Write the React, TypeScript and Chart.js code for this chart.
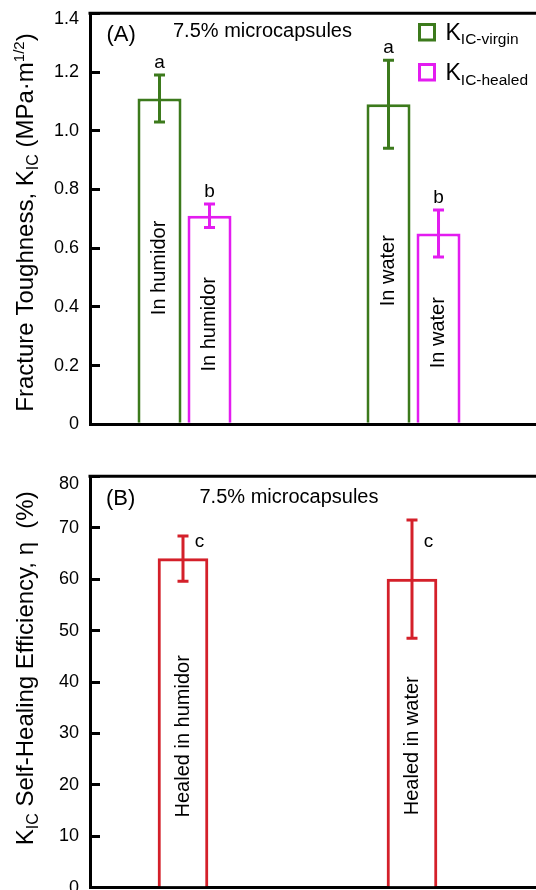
import React, { useEffect, useRef } from 'react';
import { Chart, registerables } from 'chart.js';

Chart.register(...registerables);

const FONT = "'Liberation Sans', Arial, Helvetica, sans-serif";

// ---------- Panel A data ----------
const conditionsA = ['In humidor', 'In water'];
const virginValues = [1.11, 1.09];
const virginErrors = [0.08, 0.15];
const virginLetters = ['a', 'a'];
const healedValues = [0.71, 0.65];
const healedErrors = [0.04, 0.08];
const healedLetters = ['b', 'b'];
const toughnessTicks = [0, 0.2, 0.4, 0.6, 0.8, 1.0, 1.2, 1.4];

// ---------- Panel B data ----------
const conditionsB = ['Healed in humidor', 'Healed in water'];
const efficiencyValues = [64, 60];
const efficiencyErrors = [4.4, 11.5];
const efficiencyLetters = ['c', 'c'];
const efficiencyTicks = [0, 10, 20, 30, 40, 50, 60, 70, 80];
const efficiencyLetterLevel = 66.2;

const GREEN = '#3c7a1c';
const MAGENTA = '#e31cf0';
const RED = '#d4202a';

const fmtA = (v: number) => (v === 0 ? '0' : v.toFixed(1));
const fmtB = (v: number) => String(v);

type Seg = { t: string; size: number; dy: number };

function measureSegs(ctx: CanvasRenderingContext2D, segs: Seg[]) {
  let w = 0;
  for (const s of segs) {
    ctx.font = `${s.size}px ${FONT}`;
    w += ctx.measureText(s.t).width;
  }
  return w;
}

function drawSegs(ctx: CanvasRenderingContext2D, segs: Seg[], x0: number, y0: number) {
  let x = x0;
  ctx.textAlign = 'left';
  ctx.textBaseline = 'alphabetic';
  for (const s of segs) {
    ctx.font = `${s.size}px ${FONT}`;
    ctx.fillText(s.t, x, y0 + s.dy);
    x += ctx.measureText(s.t).width;
  }
}

interface DecorCfg {
  title: Seg[];
  titleX: number;
  titleY: number;
  topLabel: string;
  topLabelShift: number;
  panel: { text: string; x: number; y: number };
  note: { text: string; x: number; y: number };
  legend?: { color: string; sub: string; boxY: number; textY: number }[];
  letterMode: 'above' | 'right';
  letterLevel?: number;
  innerRatio: number;
}

function makeDecor(cfg: DecorCfg) {
  return {
    id: 'decor',
    afterDraw(chart: any) {
      const ctx: CanvasRenderingContext2D = chart.ctx;
      const { left, right, top } = chart.chartArea;
      const yScale = chart.scales.y;
      ctx.save();
      // top frame line
      ctx.strokeStyle = '#000';
      ctx.lineWidth = 3;
      ctx.beginPath();
      ctx.moveTo(left - 1.5, top);
      ctx.lineTo(right, top);
      ctx.stroke();

      // top tick label (sits slightly below the frame line)
      ctx.fillStyle = '#000';
      ctx.font = `18px ${FONT}`;
      ctx.textAlign = 'right';
      ctx.textBaseline = 'middle';
      ctx.fillText(cfg.topLabel, left - 11, top + cfg.topLabelShift);

      // error bars, letters, inner labels
      chart.data.datasets.forEach((ds: any, di: number) => {
        const meta = chart.getDatasetMeta(di);
        meta.data.forEach((el: any, i: number) => {
          const v = ds.data[i].y;
          const e = ds.errors[i];
          const x = el.x;
          const yHi = yScale.getPixelForValue(v + e);
          const yLo = yScale.getPixelForValue(v - e);
          ctx.strokeStyle = ds.borderColor;
          ctx.lineWidth = 3;
          ctx.beginPath();
          ctx.moveTo(x, yHi);
          ctx.lineTo(x, yLo);
          ctx.moveTo(x - 5.5, yHi);
          ctx.lineTo(x + 5.5, yHi);
          ctx.moveTo(x - 5.5, yLo);
          ctx.lineTo(x + 5.5, yLo);
          ctx.stroke();

          ctx.fillStyle = '#000';
          ctx.font = `19px ${FONT}`;
          ctx.textAlign = 'center';
          ctx.textBaseline = 'alphabetic';
          if (cfg.letterMode === 'above') {
            ctx.fillText(ds.letters[i], x, yHi - 7);
          } else {
            ctx.fillText(ds.letters[i], x + 16.5, yScale.getPixelForValue(cfg.letterLevel));
          }

          // rotated label inside bar
          const yc = yScale.getPixelForValue(v * cfg.innerRatio);
          ctx.save();
          ctx.translate(x, yc);
          ctx.rotate(-Math.PI / 2);
          ctx.font = `20px ${FONT}`;
          ctx.textAlign = 'center';
          ctx.textBaseline = 'middle';
          ctx.fillText(ds.innerLabels[i], 0, 0);
          ctx.restore();
        });
      });

      // axis title (rotated, rich text)
      ctx.fillStyle = '#000';
      const tw = measureSegs(ctx, cfg.title);
      ctx.save();
      ctx.translate(cfg.titleX, cfg.titleY);
      ctx.rotate(-Math.PI / 2);
      drawSegs(ctx, cfg.title, -tw / 2, 0);
      ctx.restore();

      // panel label and note
      ctx.font = `22px ${FONT}`;
      ctx.textAlign = 'left';
      ctx.textBaseline = 'alphabetic';
      ctx.fillText(cfg.panel.text, cfg.panel.x, cfg.panel.y);
      ctx.font = `20px ${FONT}`;
      ctx.fillText(cfg.note.text, cfg.note.x, cfg.note.y);

      // legend
      if (cfg.legend) {
        cfg.legend.forEach((it) => {
          ctx.strokeStyle = it.color;
          ctx.lineWidth = 3;
          ctx.strokeRect(419.5, it.boxY, 15, 15.5);
          ctx.fillStyle = '#000';
          drawSegs(
            ctx,
            [
              { t: 'K', size: 23, dy: 0 },
              { t: it.sub, size: 15.5, dy: 4.5 },
            ],
            445.5,
            it.textY
          );
        });
      }
      ctx.restore();
    },
  };
}

function baseOptions(opts: {
  xMin: number;
  xMax: number;
  ticks: number[];
  fmt: (v: number) => string;
  padTop: number;
  padBottom: number;
  n: number;
}) {
  const maxTick = opts.ticks[opts.ticks.length - 1];
  return {
    animation: false,
    responsive: false,
    maintainAspectRatio: false,
    layout: { padding: { top: opts.padTop, bottom: opts.padBottom, left: 0, right: 0 } },
    plugins: { legend: { display: false }, tooltip: { enabled: false } },
    scales: {
      x: {
        type: 'linear',
        min: opts.xMin,
        max: opts.xMax,
        offset: false,
        z: 1,
        grid: { display: false, offset: false },
        ticks: { display: false },
        border: { display: true, color: '#000', width: 3 },
        afterBuildTicks: (s: any) => {
          s.ticks = Array.from({ length: opts.n }, (_, i) => ({ value: i }));
        },
        afterFit: (s: any) => {
          s.height = 0;
          s.paddingLeft = 0;
          s.paddingRight = 0;
          s.paddingTop = 0;
          s.paddingBottom = 0;
        },
      },
      y: {
        min: opts.ticks[0],
        max: maxTick,
        grid: {
          display: true,
          drawOnChartArea: false,
          drawTicks: true,
          tickLength: -10,
          color: '#000',
          lineWidth: 3,
        },
        border: { display: true, color: '#000', width: 3 },
        ticks: {
          color: '#000',
          padding: 21,
          font: { size: 18, family: FONT },
          callback: (v: any) => (Number(v) === maxTick ? '' : opts.fmt(Number(v))),
        },
        afterBuildTicks: (s: any) => {
          s.ticks = opts.ticks.map((v) => ({ value: v }));
        },
        afterFit: (s: any) => {
          s.width = 90;
          s.paddingTop = 0;
          s.paddingBottom = 0;
          s.paddingLeft = 0;
          s.paddingRight = 0;
        },
      },
    },
  };
}

function ChartA() {
  const ref = useRef<HTMLCanvasElement>(null);
  useEffect(() => {
    const chart = new Chart(ref.current as HTMLCanvasElement, {
      type: 'bar',
      data: {
        datasets: [
          {
            label: 'KIC-virgin',
            data: virginValues.map((y, i) => ({ x: i, y })),
            borderColor: GREEN,
            backgroundColor: '#ffffff',
            borderWidth: 3,
            categoryPercentage: 0.4367,
            barPercentage: 0.88,
            errors: virginErrors,
            letters: virginLetters,
            innerLabels: conditionsA,
          } as any,
          {
            label: 'KIC-healed',
            data: healedValues.map((y, i) => ({ x: i, y })),
            borderColor: MAGENTA,
            backgroundColor: '#ffffff',
            borderWidth: 3,
            categoryPercentage: 0.4367,
            barPercentage: 0.88,
            errors: healedErrors,
            letters: healedLetters,
            innerLabels: conditionsA,
          } as any,
        ],
      },
      options: baseOptions({
        xMin: -0.4127,
        xMax: 1.5349,
        ticks: toughnessTicks,
        fmt: fmtA,
        padTop: 13.3,
        padBottom: 445 - 424.3,
        n: conditionsA.length,
      }) as any,
      plugins: [
        makeDecor({
          title: [
            { t: 'Fracture Toughness, K', size: 24, dy: 0 },
            { t: 'IC', size: 16, dy: 5 },
            { t: ' (MPa·m', size: 24, dy: 0 },
            { t: '1/2', size: 15, dy: -9 },
            { t: ')', size: 24, dy: 0 },
          ],
          titleX: 33,
          titleY: 222.5,
          topLabel: fmtA(toughnessTicks[toughnessTicks.length - 1]),
          topLabelShift: 6,
          panel: { text: '(A)', x: 106.5, y: 40.5 },
          note: { text: '7.5% microcapsules', x: 173, y: 36.7 },
          legend: [
            { color: GREEN, sub: 'IC-virgin', boxY: 24.5, textY: 39.5 },
            { color: MAGENTA, sub: 'IC-healed', boxY: 64.5, textY: 80 },
          ],
          letterMode: 'above',
          innerRatio: 0.48,
        }) as any,
      ],
    });
    return () => chart.destroy();
  }, []);
  return (
    <canvas
      ref={ref}
      width={536}
      height={445}
      style={{ position: 'absolute', left: 0, top: 0, display: 'block' }}
    />
  );
}

function ChartB() {
  const ref = useRef<HTMLCanvasElement>(null);
  useEffect(() => {
    const chart = new Chart(ref.current as HTMLCanvasElement, {
      type: 'bar',
      data: {
        datasets: [
          {
            label: 'Self-healing efficiency',
            data: efficiencyValues.map((y, i) => ({ x: i, y })),
            borderColor: RED,
            backgroundColor: '#ffffff',
            borderWidth: 3,
            barThickness: 50,
            errors: efficiencyErrors,
            letters: efficiencyLetters,
            innerLabels: conditionsB,
          } as any,
        ],
      },
      options: baseOptions({
        xMin: -0.4061,
        xMax: 1.5415,
        ticks: efficiencyTicks,
        fmt: fmtB,
        padTop: 26.3,
        padBottom: 460 - 437.7,
        n: conditionsB.length,
      }) as any,
      plugins: [
        makeDecor({
          title: [
            { t: 'K', size: 24, dy: 0 },
            { t: 'IC', size: 16, dy: 5 },
            { t: ' Self-Healing Efficiency, η  (%)', size: 24, dy: 0 },
          ],
          titleX: 33,
          titleY: 218.3,
          topLabel: fmtB(efficiencyTicks[efficiencyTicks.length - 1]),
          topLabelShift: 8,
          panel: { text: '(B)', x: 106, y: 55.4 },
          note: { text: '7.5% microcapsules', x: 199.5, y: 52.7 },
          letterMode: 'right',
          letterLevel: efficiencyLetterLevel,
          innerRatio: 0.46,
        }) as any,
      ],
    });
    return () => chart.destroy();
  }, []);
  return (
    <canvas
      ref={ref}
      width={536}
      height={460}
      style={{ position: 'absolute', left: 0, top: 450, display: 'block' }}
    />
  );
}

export default function App() {
  return (
    <div
      style={{
        position: 'absolute',
        left: 0,
        top: 0,
        width: 536,
        height: 890,
        overflow: 'hidden',
        background: '#ffffff',
      }}
    >
      <ChartA />
      <ChartB />
    </div>
  );
}
